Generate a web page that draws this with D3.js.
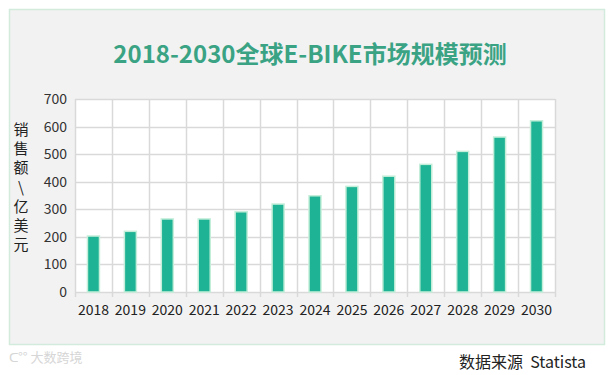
<!DOCTYPE html>
<html>
<head>
<meta charset="utf-8">
<script src="https://cdn.jsdelivr.net/npm/d3@7"></script>
<style>
  body { margin: 0; background: #ffffff; }
  svg { display: block; font-family: "Noto Sans CJK SC", "Noto Sans", sans-serif; }
</style>
</head>
<body>
<div id="chart"></div>
<script>
// data
var years = ["2018", "2019", "2020", "2021", "2022", "2023", "2024", "2025", "2026", "2027", "2028", "2029", "2030"];
var sales = [203, 220, 265, 265, 291, 319, 349, 383, 420, 463, 510, 562, 621];
var yTicks = [0, 100, 200, 300, 400, 500, 600, 700];
var yLabelChars = ["销", "售", "额", "\\", "亿", "美", "元"];

var W = 614, H = 375;
var plot = { left: 75, right: 555, top: 99, bottom: 292 };

var svg = d3.select("#chart").append("svg").attr("width", W).attr("height", H);

// grey panel with light green border
svg.append("rect").attr("x", 9.5).attr("y", 9.5).attr("width", 595).attr("height", 335)
  .attr("fill", "#f2f2f2").attr("stroke", "#d3ebdc").attr("stroke-width", 1.5);

svg.append("text").attr("x", 310).attr("y", 63).attr("text-anchor", "middle")
  .attr("font-size", "24px").attr("font-weight", "bold").attr("fill", "#3aa384")
  .text("2018-2030全球E-BIKE市场规模预测");

var x = d3.scaleBand().domain(years).range([plot.left, plot.right]).paddingInner(0).paddingOuter(0);
var y = d3.scaleLinear().domain([0, 700]).range([plot.bottom, plot.top]);

// white plot area
svg.append("rect").attr("x", plot.left).attr("y", plot.top)
  .attr("width", plot.right - plot.left).attr("height", plot.bottom - plot.top).attr("fill", "#ffffff");

// horizontal grid
svg.append("g").selectAll("line").data(yTicks).join("line")
  .attr("x1", plot.left).attr("x2", plot.right)
  .attr("y1", function(d) { return Math.round(y(d)) + 0.5; })
  .attr("y2", function(d) { return Math.round(y(d)) + 0.5; })
  .attr("stroke", "#d9d9d9").attr("stroke-width", 1.5);

// vertical grid, extending a bit below the axis as tick marks
var edges = years.map(function(d) { return x(d); }).concat([plot.right]);
svg.append("g").selectAll("line").data(edges).join("line")
  .attr("x1", function(d) { return Math.round(d) + 0.5; })
  .attr("x2", function(d) { return Math.round(d) + 0.5; })
  .attr("y1", plot.top).attr("y2", plot.bottom + 5)
  .attr("stroke", "#d9d9d9").attr("stroke-width", 1.5);

// y tick labels
svg.append("g").selectAll("text").data(yTicks).join("text")
  .attr("x", 67).attr("y", function(d) { return y(d) + 5; })
  .attr("text-anchor", "end").attr("font-size", "14px").attr("fill", "#333")
  .text(function(d) { return d; });

// bars
var bw = 12;
svg.append("g").selectAll("rect").data(sales).join("rect")
  .attr("x", function(d, i) { return x(years[i]) + x.bandwidth() / 2 - bw / 2; })
  .attr("y", function(d) { return y(d); })
  .attr("width", bw)
  .attr("height", function(d) { return y(0) - y(d); })
  .attr("fill", "#1eb394").attr("stroke", "#c4eed9").attr("stroke-width", 1.5);

// x labels
svg.append("g").selectAll("text").data(years).join("text")
  .attr("x", function(d) { return x(d) + x.bandwidth() / 2; })
  .attr("y", 315).attr("text-anchor", "middle").attr("font-size", "14px").attr("fill", "#222")
  .text(function(d) { return d; });

// vertical y-axis title, one char per line
svg.append("g").selectAll("text").data(yLabelChars).join("text")
  .attr("x", 21).attr("y", function(d, i) { return 135 + i * 19.2; })
  .attr("text-anchor", "middle").attr("font-size", "15px").attr("fill", "#222")
  .text(function(d) { return d; });

// footer
svg.append("text").attr("x", 586).attr("y", 368).attr("text-anchor", "end")
  .attr("font-size", "16px").attr("fill", "#222").attr("xml:space", "preserve")
  .text("数据来源  Statista");
svg.append("text").attr("x", 9).attr("y", 362)
  .attr("font-size", "13px").attr("fill", "#d6d6d6").text("ᑕ°° 大数跨境");
</script>
</body>
</html>
